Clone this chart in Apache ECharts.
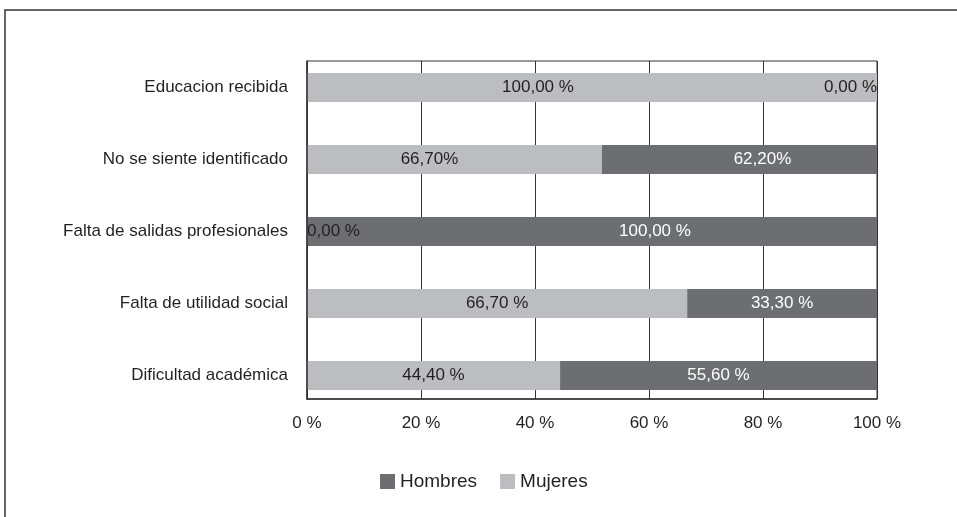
<!DOCTYPE html>
<html>
<head>
<meta charset="utf-8">
<script src="https://cdn.jsdelivr.net/npm/echarts@6/dist/echarts.min.js"></script>
<style>
  html, body { margin: 0; padding: 0; background: #fff; }
  #chart { width: 957px; height: 517px; }
</style>
</head>
<body>
<div id="chart"></div>
<script>
// Motivos de abandono, por sexo (barras apiladas al 100 %)
const categorias = [
  'Educacion recibida',
  'No se siente identificado',
  'Falta de salidas profesionales',
  'Falta de utilidad social',
  'Dificultad académica'
];
const mujeres = [100, 66.7, 0, 66.7, 44.4];
const hombres = [0, 62.2, 100, 33.3, 55.6];
// texto entre la cifra y el signo % en cada fila
const separadores = [' ', '', ' ', ' ', ' '];
const ticksX = [0, 20, 40, 60, 80, 100];

const FUENTE = "'Liberation Sans', Arial, Helvetica, sans-serif";
const TEXTO = '#231f20';
const CLARO = '#bcbdc0';
const OSCURO = '#6d6e71';

// cada fila se reparte sobre el 100 % de la barra
const totales = mujeres.map((m, i) => m + hombres[i]);
const parte = (arr) => arr.map((v, i) => totales[i] ? v / totales[i] * 100 : 0);

const formato = (arr) => (p) => arr[p.dataIndex].toFixed(2).replace('.', ',') + separadores[p.dataIndex] + '%';

// ajustes de etiqueta por fila
const etiquetasMujeres = {
  0: { offset: [-54, 0] },
  1: { offset: [-25, 0] },
  2: { position: 'right', distance: 0 }
};
const etiquetasHombres = {
  0: { position: 'left', distance: 0, color: TEXTO },
  1: { offset: [23, 0] },
  2: { offset: [63, 0] }
};

function datos(valores, ajustes) {
  return parte(valores).map((v, i) => ajustes[i] ? { value: v, label: ajustes[i] } : v);
}

const chart = echarts.init(document.getElementById('chart'), null, { renderer: 'canvas' });

chart.setOption({
  animation: false,
  backgroundColor: '#fff',
  textStyle: { fontFamily: FUENTE },
  graphic: [{
    type: 'rect',
    silent: true,
    z: 100,
    shape: { x: 5, y: 10, width: 1200, height: 800 },
    style: { fill: 'none', stroke: '#333', lineWidth: 1.5 }
  }],
  legend: {
    data: ['Hombres', 'Mujeres'],
    left: 380,
    top: 472,
    padding: 0,
    icon: 'rect',
    itemWidth: 15,
    itemHeight: 15,
    itemGap: 23,
    textStyle: { fontFamily: FUENTE, fontSize: 19, color: TEXTO }
  },
  grid: [
    // marco con la escala
    { left: 307, right: 80, top: 61, bottom: 118, show: true, borderColor: '#333', borderWidth: 1, containLabel: false },
    // barras
    { left: 307, right: 80, top: 51.5, height: 360, containLabel: false }
  ],
  xAxis: [
    {
      gridIndex: 0, type: 'value', min: ticksX[0], max: ticksX[ticksX.length - 1], interval: 20,
      axisLine: { show: true, lineStyle: { color: '#333', width: 1.5 } },
      axisTick: { show: false },
      axisLabel: { formatter: '{value} %', fontFamily: FUENTE, fontSize: 17, color: TEXTO, margin: 16 },
      splitLine: { show: true, lineStyle: { color: '#333', width: 1 } }
    },
    { gridIndex: 1, type: 'value', min: 0, max: 100, show: false }
  ],
  yAxis: [
    {
      gridIndex: 0, type: 'category', data: categorias, inverse: true,
      axisLine: { show: true, lineStyle: { color: '#333', width: 1.5 } },
      axisTick: { show: false }, axisLabel: { show: false }, splitLine: { show: false },
      z: 3
    },
    {
      gridIndex: 1, type: 'category', data: categorias, inverse: true,
      axisLine: { show: false }, axisTick: { show: false }, splitLine: { show: false },
      axisLabel: { fontFamily: FUENTE, fontSize: 17, color: TEXTO, margin: 19 }
    }
  ],
  series: [
    {
      name: 'Mujeres', type: 'bar', stack: 'total', xAxisIndex: 1, yAxisIndex: 1,
      barWidth: 29, itemStyle: { color: CLARO },
      label: { show: true, position: 'inside', fontFamily: FUENTE, fontSize: 17, color: TEXTO, formatter: formato(mujeres) },
      data: datos(mujeres, etiquetasMujeres)
    },
    {
      name: 'Hombres', type: 'bar', stack: 'total', xAxisIndex: 1, yAxisIndex: 1,
      barWidth: 29, itemStyle: { color: OSCURO },
      label: { show: true, position: 'inside', fontFamily: FUENTE, fontSize: 17, color: '#fff', formatter: formato(hombres) },
      data: datos(hombres, etiquetasHombres)
    }
  ]
});
</script>
</body>
</html>
